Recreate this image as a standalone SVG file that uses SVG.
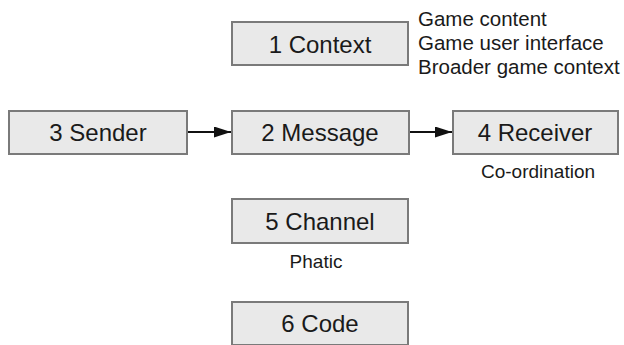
<svg xmlns="http://www.w3.org/2000/svg" width="624" height="345" viewBox="0 0 624 345">
<style>
.box{fill:#e9e9e9;stroke:#7a7a7a;stroke-width:2}
.lbl{font-family:"Liberation Sans",Arial,sans-serif;font-size:24px;fill:#1a1a1a;text-anchor:middle;dominant-baseline:central}
.note{font-family:"Liberation Sans",Arial,sans-serif;font-size:20.5px;fill:#1a1a1a}
.sub{font-family:"Liberation Sans",Arial,sans-serif;font-size:19px;fill:#1a1a1a;text-anchor:middle}
.conn{stroke:#111;stroke-width:2;fill:none;marker-end:url(#ah)}
</style>
<defs>
<marker id="ah" viewBox="0 0 10 10" refX="10" refY="5" markerWidth="8.5" markerHeight="5.5" markerUnits="strokeWidth" orient="auto" preserveAspectRatio="none">
<path d="M0,0 L10,5 L0,10 Z" fill="#111"/>
</marker>
</defs>
<rect width="624" height="345" fill="#fff"/>
<g id="connectors">
<line class="conn" x1="188" y1="132" x2="231" y2="132"/>
<line class="conn" x1="410" y1="132" x2="452" y2="132"/>
</g>
<g id="context">
<rect class="box" x="232" y="22" width="176" height="43"/>
<text class="lbl" x="320" y="44">1 Context</text>
<text class="note" x="418" y="26">Game content</text>
<text class="note" x="418" y="50">Game user interface</text>
<text class="note" x="418" y="74">Broader game context</text>
</g>
<g id="sender">
<rect class="box" x="9" y="111" width="178" height="43"/>
<text class="lbl" x="98" y="132">3 Sender</text>
</g>
<g id="message">
<rect class="box" x="232" y="111" width="177" height="43"/>
<text class="lbl" x="320" y="132">2 Message</text>
</g>
<g id="receiver">
<rect class="box" x="453" y="111" width="165" height="43"/>
<text class="lbl" x="535" y="132">4 Receiver</text>
<text class="sub" x="538" y="178">Co-ordination</text>
</g>
<g id="channel">
<rect class="box" x="232" y="199" width="176" height="44"/>
<text class="lbl" x="320" y="221">5 Channel</text>
<text class="sub" x="316" y="268">Phatic</text>
</g>
<g id="code">
<rect class="box" x="232" y="302" width="176" height="43"/>
<text class="lbl" x="320" y="323">6 Code</text>
</g>
</svg>
